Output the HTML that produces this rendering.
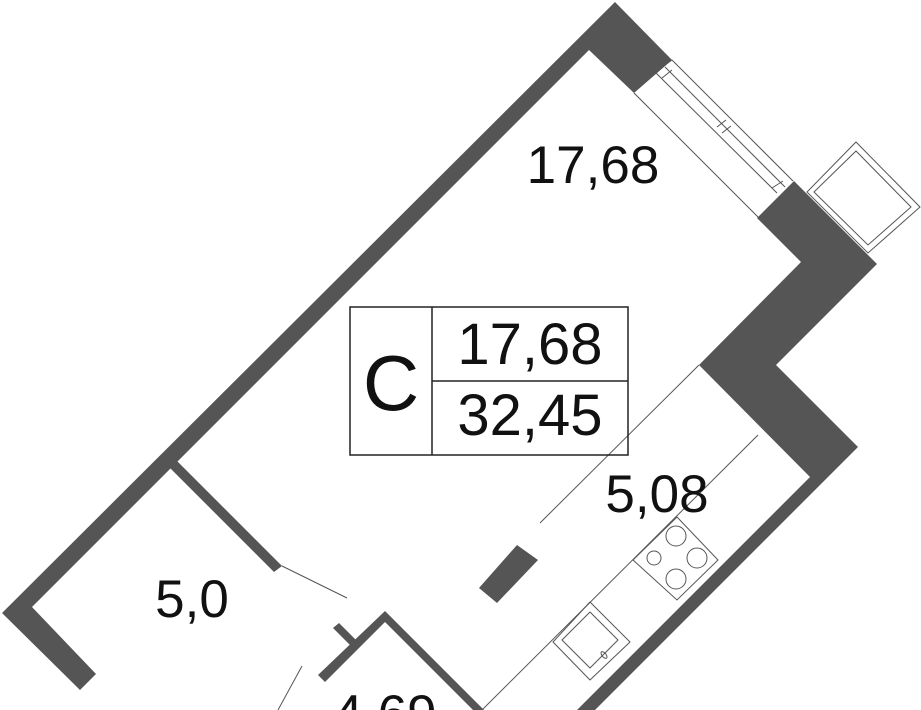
<!DOCTYPE html>
<html><head><meta charset="utf-8"><style>
html,body{margin:0;padding:0;background:#fff;}
svg{display:block;}
text{font-family:"Liberation Sans",sans-serif;fill:#111;}
</style></head><body>
<svg width="921" height="710" viewBox="0 0 921 710" xmlns="http://www.w3.org/2000/svg">
<g fill="#555" stroke="none">
<polygon points="615,2 672,60 634,93 589,50 32,607 96,674 80,690 2,613"/>
<polygon points="794,181 877,264 776,365 858,447 595,710 577,710 810,477 699,365 801,262 757,218"/>
<polygon points="169,467 177,461 282,566 274,572"/>
<polygon points="517,545 538,560 497,603 479,588"/>
<polygon points="385,611 485,711 474,711 385,622 325,682 318,675"/>
<polygon points="333,628 339,623 357,641 351,646"/>
</g>
<g fill="none" stroke="#555" stroke-width="1">
<line x1="634" y1="93" x2="759" y2="218"/>
<line x1="655" y1="72" x2="777" y2="193"/>
<line x1="665" y1="67" x2="785" y2="187"/>
<line x1="672" y1="60" x2="793" y2="181"/>
<line x1="655" y1="72" x2="672" y2="60"/>
<line x1="662" y1="78" x2="672" y2="70"/>
<line x1="717" y1="127" x2="726" y2="120"/>
<line x1="722" y1="133" x2="731" y2="126"/>
<line x1="772" y1="188" x2="783" y2="181"/>
<polygon points="856,142 920,207 868,253 807,192"/>
<polygon points="856,151 911,207 868,245 814,192"/>
<line x1="699" y1="365" x2="540" y2="523"/>
<line x1="758" y1="435" x2="482" y2="710"/>
<line x1="282" y1="566" x2="347" y2="598"/>
<line x1="302" y1="666" x2="278" y2="710"/>
<polygon points="677,517 718,560 677,600 633,560"/>
<circle cx="676" cy="536" r="10"/>
<circle cx="697" cy="558" r="10"/>
<circle cx="676" cy="579" r="10"/>
<circle cx="654" cy="558" r="7"/>
<polygon points="590,602 630,642 590,680 553,642" stroke-linejoin="round"/>
<polygon points="590,612 618,640 590,668 562,640" stroke-linejoin="round"/>
<ellipse cx="604" cy="655" rx="2" ry="4" transform="rotate(-40 604 655)"/>
</g>
<g fill="none" stroke="#222" stroke-width="1.5">
<rect x="350" y="307" width="278" height="148"/>
<line x1="432" y1="307" x2="432" y2="455"/>
<line x1="432" y1="381" x2="628" y2="381"/>
</g>
<text x="391" y="410" font-size="78" text-anchor="middle">C</text>
<text x="530" y="364" font-size="58" text-anchor="middle">17,68</text>
<text x="530" y="435" font-size="58" text-anchor="middle">32,45</text>
<text x="593" y="183" font-size="53" text-anchor="middle">17,68</text>
<text x="657" y="512" font-size="53" text-anchor="middle">5,08</text>
<text x="192" y="617" font-size="53" text-anchor="middle">5,0</text>
<text x="385" y="732" font-size="53" text-anchor="middle">4,69</text>
</svg>
</body></html>
